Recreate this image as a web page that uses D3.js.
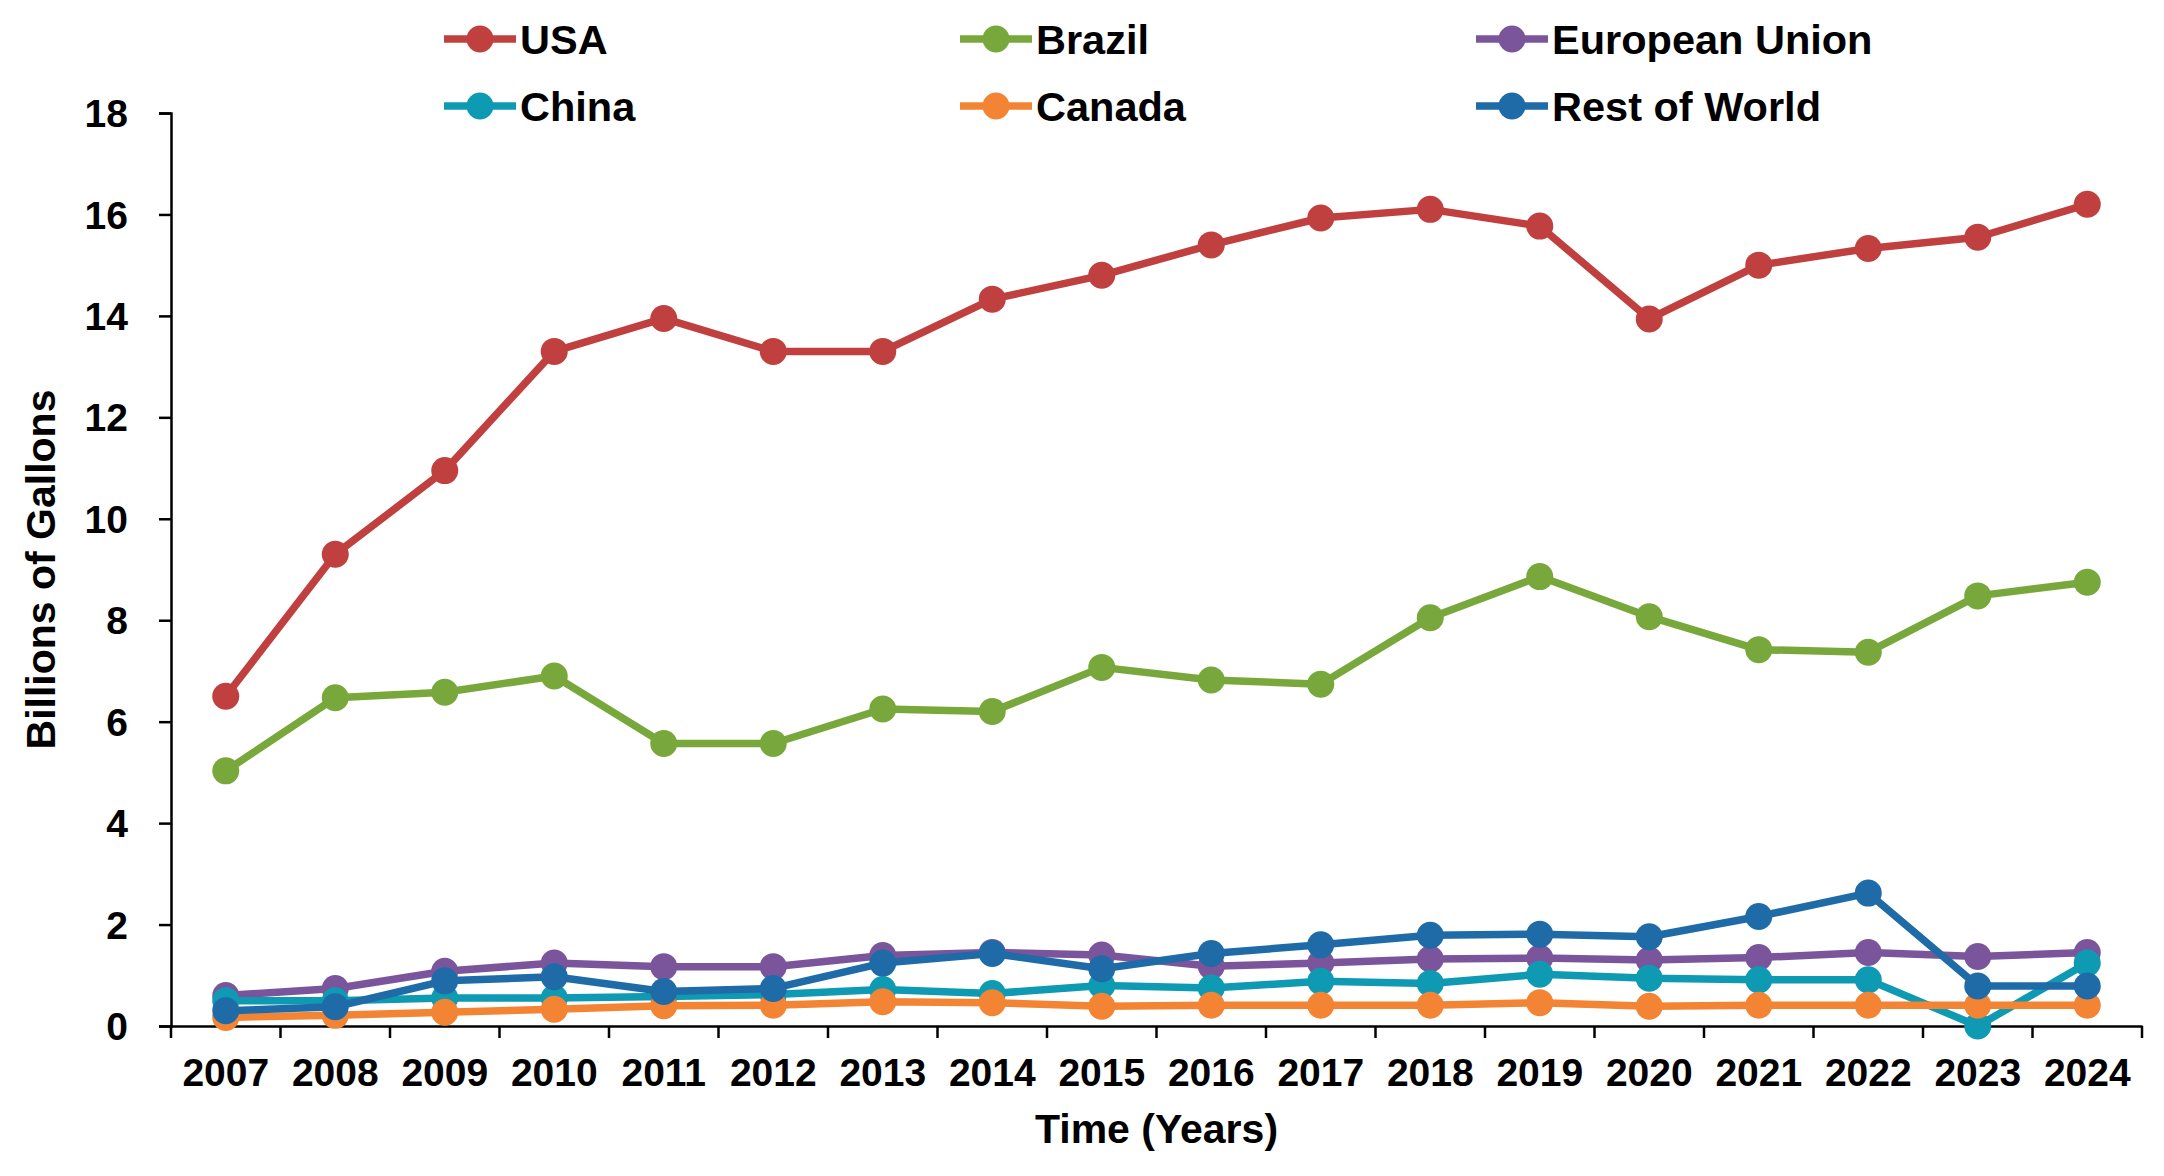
<!DOCTYPE html>
<html>
<head>
<meta charset="utf-8">
<script src="https://cdn.jsdelivr.net/npm/d3@7"></script>
<style>
  body { margin: 0; background: #fff; }
  text { font-family: "Liberation Sans", Arial, sans-serif; font-weight: bold; }
</style>
</head>
<body>
<div id="chart"></div>
<script>
// values (billions of gallons)
var years = ["2007","2008","2009","2010","2011","2012","2013","2014","2015","2016","2017","2018","2019","2020","2021","2022","2023","2024"];
var usa    = [6.5, 9.3, 10.95, 13.3, 13.95, 13.3, 13.3, 14.33, 14.8, 15.4, 15.93, 16.1, 15.77, 13.94, 15.0, 15.33, 15.55, 16.2];
var brazil = [5.03, 6.47, 6.58, 6.9, 5.57, 5.57, 6.25, 6.2, 7.07, 6.82, 6.74, 8.05, 8.86, 8.07, 7.42, 7.37, 8.48, 8.75];
var eu     = [0.6, 0.74, 1.08, 1.24, 1.17, 1.17, 1.39, 1.45, 1.4, 1.18, 1.24, 1.32, 1.34, 1.3, 1.35, 1.45, 1.37, 1.45];
var china  = [0.5, 0.5, 0.55, 0.55, 0.58, 0.62, 0.72, 0.64, 0.8, 0.75, 0.88, 0.84, 1.02, 0.94, 0.91, 0.91, 0, 1.24];
var canada = [0.17, 0.21, 0.27, 0.33, 0.4, 0.41, 0.48, 0.46, 0.39, 0.41, 0.41, 0.41, 0.46, 0.39, 0.41, 0.41, 0.41, 0.41];
var rest   = [0.3, 0.38, 0.89, 0.97, 0.68, 0.74, 1.24, 1.43, 1.13, 1.43, 1.6, 1.79, 1.81, 1.76, 2.16, 2.62, 0.79, 0.79];
var yTicks = [0, 2, 4, 6, 8, 10, 12, 14, 16, 18];

var seriesNames = ["USA", "Brazil", "European Union", "China", "Canada", "Rest of World"];
var seriesValues = [usa, brazil, eu, china, canada, rest];
var colors = ["#C0403F", "#78A83B", "#7B559C", "#0E9AB2", "#F28434", "#1F6BA8"];

var width = 2164, height = 1176;
var margin = { top: 113, right: 22, bottom: 150, left: 171 };
var innerW = width - margin.left - margin.right;
var innerH = height - margin.top - margin.bottom;

var svg = d3.select("#chart")
    .append("svg")
    .attr("width", width)
    .attr("height", height);

var g = svg.append("g")
    .attr("transform", "translate(" + margin.left + "," + margin.top + ")");

var x = d3.scaleBand()
    .domain(years)
    .range([0, innerW])
    .padding(0);

var y = d3.scaleLinear()
    .domain([0, 18])
    .range([innerH, 0]);

function cx(yr) { return x(yr) + x.bandwidth() / 2; }

// y axis
var yAxis = g.append("g")
    .call(d3.axisLeft(y).tickValues(yTicks).tickSize(12).tickPadding(31));
yAxis.select(".domain").attr("stroke", "#000").attr("stroke-width", 2.5);
yAxis.selectAll(".tick line").attr("stroke", "#000").attr("stroke-width", 2.5);
yAxis.selectAll(".tick text")
    .attr("font-size", "39px")
    .attr("fill", "#000")
    .attr("dy", "0.35em")
    .attr("x", -43);

// x axis: labels centred in bands, tick marks on band edges
var xAxis = g.append("g")
    .attr("transform", "translate(0," + innerH + ")")
    .call(d3.axisBottom(x).tickSize(0).tickPadding(0).tickSizeOuter(0));
xAxis.select(".domain").attr("stroke", "#000").attr("stroke-width", 2.5);
xAxis.selectAll(".tick text")
    .attr("font-size", "39px")
    .attr("fill", "#000")
    .attr("dy", "0")
    .attr("y", 60);

var edges = years.map(function (yr) { return x(yr); }).concat([x.range()[1]]);
xAxis.selectAll(".edge")
    .data(edges)
    .enter().append("line")
    .attr("class", "edge")
    .attr("x1", function (d) { return d; })
    .attr("x2", function (d) { return d; })
    .attr("y1", 0)
    .attr("y2", 12)
    .attr("stroke", "#000")
    .attr("stroke-width", 2.5);

// axis titles
svg.append("text")
    .attr("x", margin.left + innerW / 2)
    .attr("y", 1129)
    .attr("text-anchor", "middle")
    .attr("dominant-baseline", "central")
    .attr("font-size", "41px")
    .text("Time (Years)");

svg.append("text")
    .attr("transform", "translate(41," + (margin.top + innerH / 2) + ") rotate(-90)")
    .attr("text-anchor", "middle")
    .attr("dominant-baseline", "central")
    .attr("font-size", "41px")
    .text("Billions of Gallons");

// lines + markers
var line = d3.line()
    .x(function (d, i) { return cx(years[i]); })
    .y(function (d) { return y(d); });

seriesValues.forEach(function (vals, k) {
    g.append("path")
        .datum(vals)
        .attr("fill", "none")
        .attr("stroke", colors[k])
        .attr("stroke-width", 7.5)
        .attr("stroke-linejoin", "round")
        .attr("d", line);

    g.selectAll(".pt" + k)
        .data(vals)
        .enter().append("circle")
        .attr("class", "pt" + k)
        .attr("cx", function (d, i) { return cx(years[i]); })
        .attr("cy", function (d) { return y(d); })
        .attr("r", 13.5)
        .attr("fill", colors[k]);
});

// legend, 3 columns x 2 rows
var legend = svg.append("g");
seriesNames.forEach(function (name, k) {
    var lx = 444 + (k % 3) * 516;
    var ly = k < 3 ? 39 : 106;
    var item = legend.append("g").attr("transform", "translate(" + lx + "," + ly + ")");
    item.append("line")
        .attr("x1", 0).attr("x2", 72)
        .attr("y1", 0).attr("y2", 0)
        .attr("stroke", colors[k])
        .attr("stroke-width", 7.5);
    item.append("circle")
        .attr("cx", 36).attr("cy", 0)
        .attr("r", 13.5)
        .attr("fill", colors[k]);
    item.append("text")
        .attr("x", 76)
        .attr("y", 0)
        .attr("dominant-baseline", "central")
        .attr("font-size", "41.5px")
        .attr("fill", "#000")
        .text(name);
});
</script>
</body>
</html>
